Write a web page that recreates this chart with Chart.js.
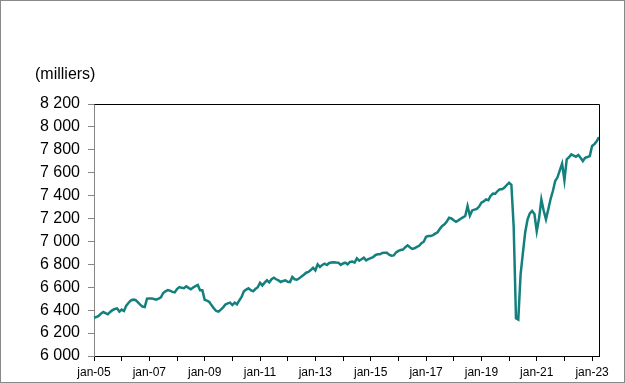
<!DOCTYPE html>
<html>
<head>
<meta charset="utf-8">
<script src="https://cdn.jsdelivr.net/npm/chart.js@4"></script>
<style>
  html, body { margin: 0; padding: 0; background: #fff; }
  canvas { display: block; }
</style>
</head>
<body>
<canvas id="graphique" width="625" height="383"></canvas>
<script>
// emploi mensuel (milliers), janvier 2005 a avril 2023
var anneeDebut = 2005;
var moisNoms = ["jan", "fév", "mar", "avr", "mai", "jun", "jul", "aoû", "sep", "oct", "nov", "déc"];
var emploi = [
    6334, 6340, 6350, 6370, 6384, 6375, 6364, 6385, 6400, 6410, 6416, 6387, // 2005
    6405, 6393, 6440, 6465, 6485, 6492, 6489, 6470, 6448, 6432, 6428, 6500, // 2006
    6503, 6503, 6497, 6491, 6500, 6512, 6550, 6565, 6575, 6570, 6560, 6555, // 2007
    6585, 6602, 6595, 6592, 6608, 6595, 6582, 6598, 6610, 6620, 6573, 6573, // 2008
    6490, 6484, 6472, 6442, 6415, 6393, 6387, 6405, 6425, 6450, 6460, 6466, // 2009
    6445, 6466, 6451, 6485, 6515, 6565, 6580, 6591, 6575, 6565, 6585, 6600, // 2010
    6640, 6615, 6640, 6661, 6642, 6670, 6683, 6670, 6660, 6646, 6655, 6661, // 2011
    6648, 6645, 6690, 6670, 6666, 6678, 6695, 6710, 6727, 6734, 6750, 6770, // 2012
    6748, 6800, 6777, 6795, 6806, 6794, 6812, 6816, 6818, 6816, 6815, 6796, // 2013
    6808, 6815, 6800, 6822, 6825, 6815, 6852, 6832, 6845, 6858, 6835, 6845, // 2014
    6855, 6862, 6880, 6888, 6888, 6900, 6902, 6902, 6885, 6876, 6878, 6905, // 2015
    6918, 6925, 6929, 6950, 6966, 6950, 6935, 6940, 6952, 6962, 6985, 6998, // 2016
    7040, 7047, 7047, 7055, 7068, 7080, 7110, 7135, 7150, 7175, 7207, 7201, // 2017
    7185, 7172, 7184, 7198, 7210, 7222, 7310, 7225, 7271, 7278, 7285, 7305, // 2018
    7339, 7350, 7367, 7360, 7397, 7418, 7416, 7440, 7455, 7455, 7470, 7493, // 2019
    7513, 7495, 7130, 6330, 6318, 6713, 6900, 7080, 7190, 7245, 7266, 7240, // 2020
    7090, 7200, 7367, 7270, 7193, 7280, 7370, 7440, 7528, 7560, 7620, 7679, // 2021
    7534, 7716, 7735, 7760, 7750, 7740, 7755, 7730, 7702, 7730, 7737, 7745, // 2022
    7833, 7850, 7875, 7910                                                  // 2023
];
var yMin = 6000;
var yMax = 8200;
var yPas = 200;

var etiquettes = [];
for (var i = 0; i < emploi.length; i++) {
    var a = anneeDebut + Math.floor(i / 12);
    etiquettes.push(moisNoms[i % 12] + "-" + String(a).slice(2));
}

function formatMilliers(v) {
    return String(v).replace(/\B(?=(\d{3})+(?!\d))/g, " ");
}

// cadre exterieur, bordure du graphique et titre de l'axe
var cadre = {
    id: "cadre",
    afterDraw: function(chart) {
        var ctx = chart.ctx;
        var ca = chart.chartArea;
        ctx.save();
        ctx.strokeStyle = "#000";
        ctx.lineWidth = 1;
        ctx.beginPath();
        ctx.moveTo(Math.round(ca.left) + 0.5, Math.round(ca.top) + 0.5);
        ctx.lineTo(Math.round(ca.right) + 0.5, Math.round(ca.top) + 0.5);
        ctx.lineTo(Math.round(ca.right) + 0.5, Math.round(ca.bottom) + 0.5);
        ctx.stroke();
        ctx.strokeStyle = "#898989";
        ctx.strokeRect(0.5, 0.5, chart.width - 1, chart.height - 1);
        ctx.fillStyle = "#000";
        ctx.font = "16px 'Liberation Sans', Arial, sans-serif";
        ctx.textBaseline = "middle";
        ctx.textAlign = "left";
        ctx.fillText("(milliers)", 35, 75);
        ctx.restore();
    }
};

var ctx = document.getElementById("graphique").getContext("2d");
new Chart(ctx, {
    type: "line",
    data: {
        labels: etiquettes,
        datasets: [{
            data: emploi,
            borderColor: "#13807e",
            borderWidth: 2.5,
            pointRadius: 0,
            tension: 0,
            fill: false
        }]
    },
    options: {
        responsive: false,
        animation: false,
        layout: { padding: { top: 104, right: 26, bottom: 0, left: 0 } },
        plugins: {
            legend: { display: false },
            tooltip: { enabled: false }
        },
        scales: {
            x: {
                type: "category",
                offset: false,
                afterFit: function(scale) { scale.height = 27; },
                border: { color: "#000", width: 1 },
                grid: {
                    display: true,
                    drawOnChartArea: false,
                    drawTicks: true,
                    tickLength: 5,
                    color: "#000"
                },
                ticks: {
                    autoSkip: false,
                    maxRotation: 0,
                    minRotation: 0,
                    padding: 4,
                    color: "#000",
                    font: { family: "'Liberation Sans', Arial, sans-serif", size: 12 },
                    callback: function(val, i) {
                        if (i % 24 === 0) return etiquettes[i];
                        if (i % 12 === 0) return "";
                        return null;
                    }
                }
            },
            y: {
                min: yMin,
                max: yMax,
                afterFit: function(scale) { scale.width = 94; },
                border: { color: "#868686", width: 1 },
                grid: {
                    display: true,
                    drawOnChartArea: false,
                    drawTicks: true,
                    tickLength: 6,
                    color: "#868686"
                },
                ticks: {
                    stepSize: yPas,
                    padding: 8,
                    color: "#000",
                    font: { family: "'Liberation Sans', Arial, sans-serif", size: 16 },
                    callback: function(v) { return formatMilliers(v); }
                }
            }
        }
    },
    plugins: [cadre]
});
</script>
</body>
</html>
